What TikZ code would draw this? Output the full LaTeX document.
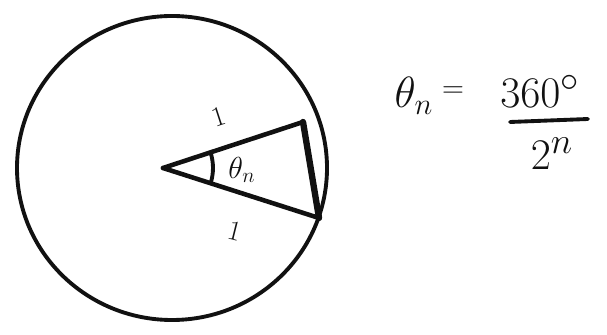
\documentclass[tikz,border=0pt]{standalone}
\usepackage{amsmath,amssymb}
\usepackage{xcolor}
\usepackage{tikz}
\usetikzlibrary{calc,positioning}
\definecolor{inkc}{HTML}{111111}
\tikzset{
  pen/.style={draw=inkc,line width=2.2pt,line cap=round,line join=round},
  lbl/.style={inner sep=0pt,text=inkc},
  big/.style={lbl,font=\fontsize{30}{34}\selectfont}
}

\begin{document}
\begin{tikzpicture}[x=0.02cm,y=0.02cm]
\useasboundingbox (0,0) rectangle (607,334);
% circle and sector
\draw[pen] (172,166) ellipse [x radius=155,y radius=152];
\coordinate (O) at (163,166);
\coordinate (A) at (303,212);
\coordinate (B) at (319,116);
\draw[pen,line width=2.6pt] (O) -- (A);
\draw[pen,line width=2.6pt] (O) -- (B);
\draw[pen,line width=3.6pt] (A) -- (B);
\draw[pen] ($(O)+(18.2:1cm)$) arc [start angle=18.2,end angle=-17.5,radius=1cm];
\node[lbl,font=\fontsize{17}{20}\selectfont] (th) at (242,164) {$\theta_n$};
\node[lbl,font=\fontsize{16}{19}\selectfont,rotate=18] (s1) at (219,217) {1};
\node[lbl,font=\fontsize{16}{19}\selectfont,rotate=-14] (s2) at (235,103) {1};
% formula
\node[big,font=\fontsize{23}{27}\selectfont] (lhs) at (414,238) {$\theta_n$};
\node[big,font=\fontsize{16}{20}\selectfont] (eq) at (453,242) {$=$};
\node[big] (num) at (540,243) {$360^\circ$};
\node[big] (den) at (552,180) {$2^n$};
\coordinate (b1) at (510,212);
\coordinate (b2) at (588,215);
\draw[pen] (b1) -- (b2);
\end{tikzpicture}
\end{document}
